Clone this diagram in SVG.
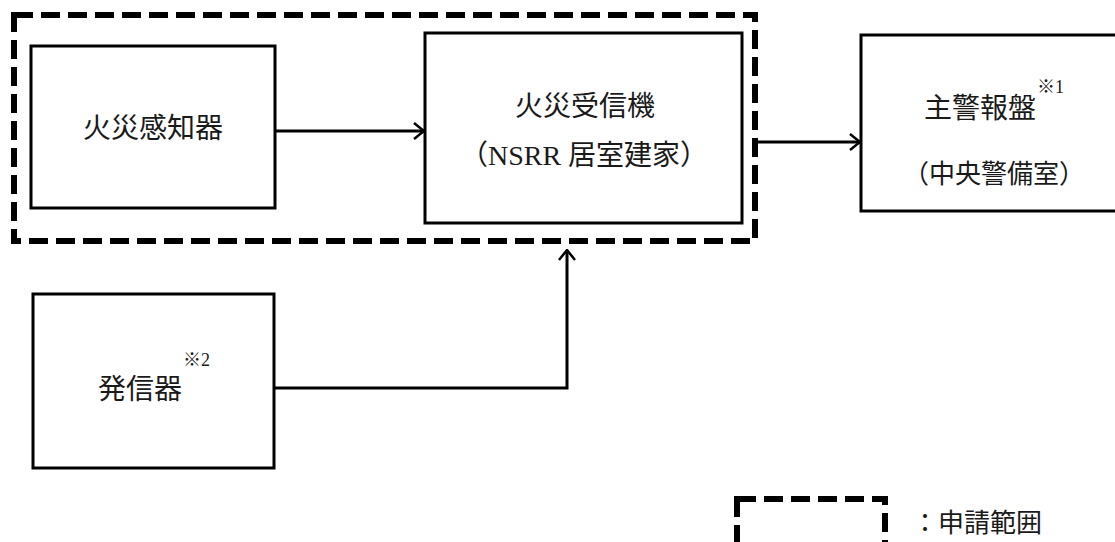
<svg xmlns="http://www.w3.org/2000/svg" width="1115" height="542" viewBox="0 0 1115 542">
<defs>
<style>
.box{fill:#fff;stroke:#000;stroke-width:3}
.scope{fill:none;stroke:#000;stroke-width:6;stroke-dasharray:19 8}
.t{font-family:"Liberation Serif","Noto Sans CJK JP",serif;font-size:28px;fill:#1a1a1a}
.t2{font-family:"Liberation Serif","Noto Sans CJK JP",serif;font-size:26px;fill:#1a1a1a}
.sup{font-family:"Liberation Serif","Noto Sans CJK JP",serif;font-size:18px;fill:#1a1a1a}
.conn{fill:none;stroke:#000;stroke-width:3}
</style>
<marker id="arr" viewBox="0 0 12 18" refX="11" refY="9" markerWidth="12" markerHeight="18" markerUnits="userSpaceOnUse" orient="auto">
<path d="M1,1 L11,9 L1,17" fill="none" stroke="#000" stroke-width="2.5"/>
</marker>
</defs>
<rect width="1115" height="542" fill="#fff"/>
<g id="scope">
<rect class="scope" x="14" y="15" width="741" height="226"/>
</g>
<g id="detector">
<rect class="box" x="31" y="46" width="244" height="162"/>
<text class="t" x="153" y="138" text-anchor="middle">火災感知器</text>
</g>
<g id="receiver">
<rect class="box" x="425" y="33" width="317" height="190"/>
<text class="t" x="585" y="116" text-anchor="middle">火災受信機</text>
<text class="t" x="584" y="165" text-anchor="middle">（NSRR 居室建家）</text>
</g>
<g id="panel">
<rect class="box" x="861" y="35" width="260" height="176"/>
<text class="t" x="980" y="118" text-anchor="middle">主警報盤</text>
<text class="sup" x="1037" y="93">※1</text>
<text class="t2" x="994" y="183" text-anchor="middle">（中央警備室）</text>
</g>
<g id="transmitter">
<rect class="box" x="33" y="294" width="241" height="174"/>
<text class="t" x="140" y="399" text-anchor="middle">発信器</text>
<text class="sup" x="183" y="366">※2</text>
</g>
<g id="connectors">
<line class="conn" x1="276" y1="131" x2="424" y2="131" marker-end="url(#arr)"/>
<line class="conn" x1="758" y1="142" x2="860" y2="142" marker-end="url(#arr)"/>
<polyline class="conn" points="275,388 567,388 567,250" marker-end="url(#arr)"/>
</g>
<g id="legend">
<rect class="scope" x="737" y="499" width="148" height="50"/>
<text class="t2" x="912" y="532">：申請範囲</text>
</g>
</svg>
